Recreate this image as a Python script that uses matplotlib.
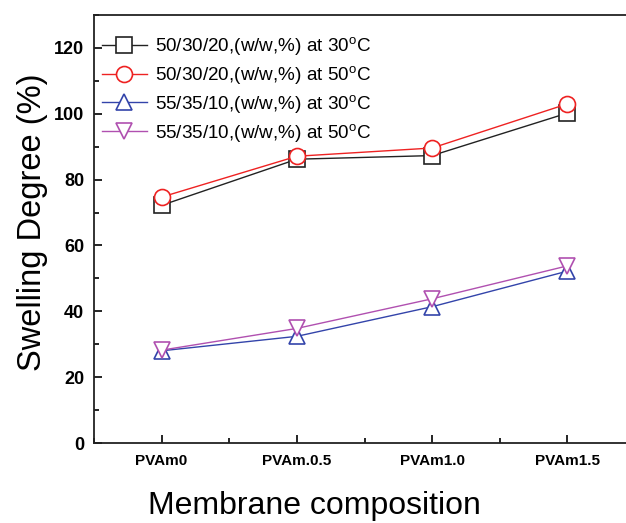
import matplotlib
matplotlib.use("Agg")
import matplotlib.pyplot as plt
from matplotlib.ticker import MultipleLocator

plt.rcParams['font.family'] = ['Liberation Sans', 'DejaVu Sans']
plt.rcParams['mathtext.default'] = 'regular'

# membrane composition categories
membranes = ['PVAm0', 'PVAm.0.5', 'PVAm1.0', 'PVAm1.5']

# swelling degree (%) for each feed and temperature
swell_50_30 = [72.2, 86.2, 87.3, 100.2]
swell_50_50 = [74.7, 87.1, 89.6, 103.0]
swell_55_30 = [28.0, 32.4, 41.4, 52.2]
swell_55_50 = [28.2, 34.8, 43.8, 53.8]

labels = ['50/30/20,(w/w,%) at 30$^{o}$C',
          '50/30/20,(w/w,%) at 50$^{o}$C',
          '55/35/10,(w/w,%) at 30$^{o}$C',
          '55/35/10,(w/w,%) at 50$^{o}$C']

x = list(range(len(membranes)))

fig = plt.figure(figsize=(6.26, 5.23), dpi=100)
ax = fig.add_axes([94/626, 80/523, 541/626, 428/523])

ms = 11.5
ax.plot(x, swell_50_30, '-s', color='#222222', lw=1, ms=ms, mfc='white', mew=1.2, label=labels[0])
ax.plot(x, swell_50_50, '-o', color='#ee2222', lw=1, ms=ms, mfc='white', mew=1.2, label=labels[1])
ax.plot(x, swell_55_30, '-^', color='#3344aa', lw=1, ms=ms, mfc='white', mew=1.2, label=labels[2])
ax.plot(x, swell_55_50, '-v', color='#b050b0', lw=1, ms=ms, mfc='white', mew=1.2, label=labels[3])

ax.set_xlim(-0.5, 3.5)
ax.set_ylim(0, 130)
ax.set_xticks(x)
ax.set_xticklabels(membranes, fontsize=11, fontweight='bold')
ax.xaxis.set_minor_locator(MultipleLocator(0.5))
ax.yaxis.set_minor_locator(MultipleLocator(10))
ax.set_yticks(range(0, 121, 20))
for lab in ax.get_yticklabels():
    lab.set_fontweight('bold')
    lab.set_fontsize(13)
ax.tick_params(which='both', direction='in', top=False, right=False)
ax.tick_params(which='major', length=6, width=1.2)
ax.tick_params(axis='y', which='major', pad=7)
ax.tick_params(axis='x', which='major', pad=8)
ax.tick_params(which='minor', length=3.5, width=1.2)
for s in ax.spines.values():
    s.set_linewidth(1.3)
    s.set_color('#222222')

ax.set_ylabel('Swelling Degree (%)', fontsize=23.5)
ax.yaxis.set_label_coords(-(94 - 48) / 541, (443 - 222) / 428)
ax.set_xlabel('Membrane composition', fontsize=23)
ax.xaxis.set_label_coords((314 - 94) / 541, -(491 - 443) / 428)

ax.legend(loc='upper left', frameon=False, fontsize=13.6, handlelength=2.4,
          labelspacing=0.36, borderaxespad=0.0, handletextpad=0.45,
          bbox_to_anchor=(0.0, 0.97))

fig.savefig('out.png', dpi=100)
